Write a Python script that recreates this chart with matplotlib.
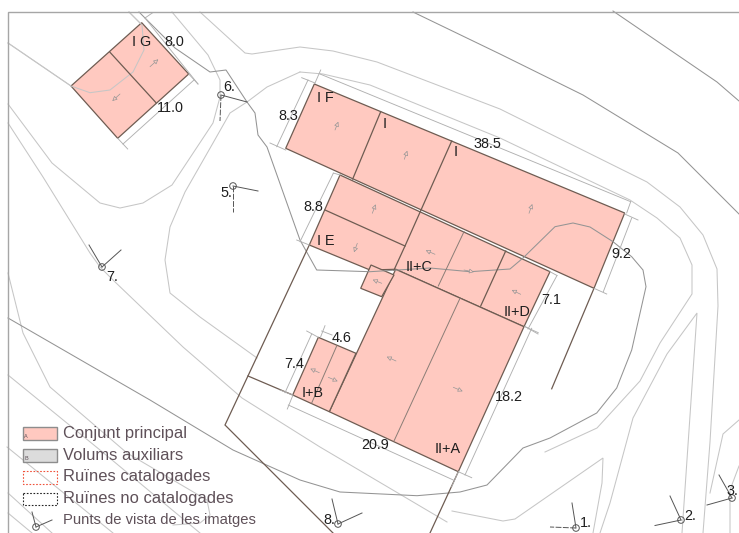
import matplotlib
matplotlib.use("Agg")
import matplotlib.pyplot as plt
from matplotlib.patches import Polygon, Circle, Rectangle

plt.rcParams['font.family'] = ['Liberation Sans', 'DejaVu Sans']

PINK = '#ffc9c0'
WALL = '#6e5c52'
GREY = '#949494'
LIGHT = '#c6c6c6'
TXT = '#1e1e1e'
LEG = '#5f5159'

# building footprints (plan coordinates)
buildings = [
    [(314.3, 84), (624.7, 213), (594, 288.3), (285.7, 148.3)],
    [(340, 175), (550, 271.7), (524, 326.7), (395.7, 269.3), (370, 270), (309.3, 245)],
    [(395.7, 269.3), (524, 326.7), (458.3, 471.7), (329.3, 411.7)],
    [(318.3, 337.3), (356, 353.3), (329.3, 411.7), (292.7, 395)],
    [(371, 265), (394, 275), (381.7, 296.7), (360.7, 288.3)],
    [(141.7, 22.7), (188.7, 74), (117.7, 138.3), (71, 86)],
]
inner_walls = [
    [(380.7, 111.7), (352.7, 179)],
    [(451.7, 141), (405, 246), (394, 270)],
    [(325, 210), (405, 246)],
    [(505.7, 251), (480.7, 306)],
    [(110, 52.3), (156, 102.7)],
]
thin_walls = [
    [(464, 231.7), (438.3, 286)],
    [(460, 298.3), (394, 441)],
    [(336.7, 346), (311.7, 403)],
]
outer_walls = [
    [(309.3, 245), (225, 425), (333, 533)],
    [(248, 376), (292.7, 395)],
    [(594, 288.3), (551.7, 388.8)],
    [(458.3, 471.7), (430, 533)],
]
# contours and paths
dark_paths = [
    [(139, 12), (175, 48), (210, 72), (226, 70), (247, 102), (255, 113), (258, 135), (267, 147), (300, 240), (316.7, 270),
     (370, 271.7), (430, 268), (470, 271.7), (510, 269), (523, 258), (555, 226.7), (573, 223), (590, 227), (613, 241.7),
     (631.7, 256.7), (643, 270), (646, 286.7), (631.7, 350), (616.7, 388), (596.7, 413), (550, 438), (523, 448),
     (487, 485), (460, 492), (417, 495.7), (340, 492), (300, 480), (233, 450), (150, 400), (8, 318)],
    [(413, 12), (500, 54), (583, 95), (678, 153), (739, 214)],
    [(613, 11), (717, 82), (739, 101)],
]
light_paths = [
    [(129, 12), (142, 25), (144, 50), (133, 72), (110, 90), (90, 92.7), (71, 86), (8, 43)],
    [(172, 12), (208, 55), (220, 80), (220, 97), (213, 123), (172, 185), (143, 203), (120, 208), (100, 203), (52, 163), (8, 104)],
    [(200, 12), (245, 53), (252, 54), (300, 47), (333, 51), (377, 62), (500, 109), (647, 182), (680, 207), (703, 235), (717, 269), (718, 306), (710, 442), (703, 533)],
    [(300, 72), (267, 87), (247, 102), (230, 113), (213, 143), (185, 192), (170, 227), (165, 260), (170, 293), (200, 317), (257, 358)],
    [(8, 123), (43, 177), (90, 253), (100, 267), (113, 280), (183, 347), (242, 398), (320, 447), (447, 522)],
    [(300, 72), (323, 74), (370, 85), (500, 138), (630, 200), (657, 218), (680, 238), (692, 265), (692, 294), (660, 343), (640, 381), (597, 428), (545, 452)],
    [(682, 533), (697, 313), (667, 354), (633, 418), (610, 503), (600, 533)],
    [(593, 533), (602, 483), (603, 458), (515, 519), (503, 521), (452, 511)],
    [(739, 420), (723, 434), (710, 493)],
    [(739, 466), (730, 490), (730, 533)],
    [(8, 273), (23, 333), (50, 387), (127, 453), (207, 500), (210, 515), (200, 523), (173, 525)],
    [(8, 375), (100, 450), (200, 533)],
    [(7, 447), (113, 533)],
    [(8, 493), (52, 533)],
    [(8, 513), (32, 533)],
]
# dimension lines
dims = [
    [(276.7, 146.7), (308, 80)], [(270, 143), (285.7, 150)], [(301.7, 77.7), (315, 83)],
    [(320, 74), (630.7, 201.7)], [(320.7, 70), (315, 83)], [(630.7, 201.7), (626.7, 213)],
    [(631.7, 218), (603.3, 291.7)], [(624.7, 214), (638, 220)], [(594, 288.3), (606.7, 294)],
    [(333.3, 173.3), (300, 241.7)], [(296.7, 240), (309.3, 245)], [(333.3, 173), (340, 175)],
    [(557, 275.5), (528, 329)], [(550, 271.7), (557, 275.5)], [(525, 326.5), (538, 334)],
    [(531.7, 328.3), (465, 475)], [(525, 326.7), (538.3, 332.7)], [(458.3, 471.7), (471.7, 477.7)],
    [(288.3, 405), (453.3, 480)], [(293, 395), (287.3, 409)], [(458.3, 471.7), (451.7, 486.7)],
    [(311.7, 334), (285, 392.7)], [(306.7, 331), (318.3, 337.3)], [(280, 390), (292.7, 395)],
    [(321.7, 331), (332, 335)], [(325, 325.7), (320.7, 336.7)],
    [(152.7, 12.7), (145, 18)], [(145, 18), (198, 84)], [(194, 80), (123, 144)],
    [(188.7, 74), (198, 84)], [(117.7, 138.3), (127.7, 149)],
]
arrows = [
    ((335, 130), (338.3, 121.7)), ((404.3, 159.3), (407.3, 150.7)), ((529, 213.3), (532.3, 204)),
    ((372.3, 213.3), (375.7, 204.3)), ((357.3, 243.3), (354, 252.3)), ((435, 254.3), (425.7, 250.3)),
    ((464, 270), (474, 272)), ((520.7, 294.3), (511.7, 290)), ((381.7, 283.3), (372.7, 279.7)),
    ((396, 361), (386.7, 356.7)), ((453.3, 387.3), (462.7, 391.3)), ((319.3, 372.7), (310.3, 368.7)),
    ((328.3, 377.3), (337.7, 381.3)), ((150, 66.7), (158.3, 59.3)), ((120, 94), (112.3, 101)),
]
labels = [
    ('I G', 142, 42), ('8.0', 174, 42), ('11.0', 170, 108), ('6.', 229, 87), ('5.', 226, 193), ('7.', 112, 277),
    ('8.3', 288, 116), ('I F', 325, 98), ('I', 385, 124), ('I', 455.5, 152), ('38.5', 487, 144), ('8.8', 313, 207),
    ('I E', 326, 241), ('II+C', 419, 267), ('9.2', 621, 254), ('7.1', 551, 300), ('II+D', 517, 312), ('4.6', 342, 338),
    ('7.4', 294, 364), ('I+B', 313, 393), ('18.2', 509, 397), ('20.9', 375, 445), ('II+A', 448, 449), ('8.', 329, 520),
    ('1.', 586, 523), ('2.', 690, 516), ('3.', 732.5, 491),
]
# viewpoint: centre, solid ray end, second ray end, second ray dashed
viewpoints = [
    ((221, 95), (247, 102), (220, 121), True),
    ((233, 186), (258, 191), (233, 212), True),
    ((102, 267), (89, 245), (121, 250), False),
    ((338, 524), (332, 499), (362, 513), False),
    ((576, 528), (572, 503), (550, 527), True),
    ((681, 520), (670, 496), (655, 525.5), False),
    ((732, 498), (719, 475), (707, 505), False),
    ((36, 527), (32, 512), (52, 520), False),
]
legend_names = ['Conjunt principal', 'Volums auxiliars', 'Ruïnes catalogades', 'Ruïnes no catalogades', 'Punts de vista de les imatges']
legend_y = [433.7, 455, 477, 498, 520]
legend_sizes = [11.9, 11.9, 11.9, 11.9, 10.6]

fig = plt.figure(figsize=(7.39, 5.33), dpi=100)
ax = fig.add_axes([0, 0, 1, 1])
ax.set_xlim(0, 739)
ax.set_ylim(533, 0)
ax.axis('off')


def path(points, **kw):
    ax.plot([p[0] for p in points], [p[1] for p in points], solid_joinstyle='miter', **kw)


for p in light_paths:
    path(p, color=LIGHT, lw=0.75, zorder=1)
for b in buildings:
    ax.add_patch(Polygon(b, closed=True, fc=PINK, ec=WALL, lw=0.9, zorder=2))
for p in light_paths[:1]:
    path(p, color=LIGHT, lw=0.75, zorder=3)
for p in dark_paths:
    path(p, color=GREY, lw=0.75, zorder=3)
for p in inner_walls:
    path(p, color=WALL, lw=0.9, zorder=3)
for p in thin_walls:
    path(p, color='#8a7d76', lw=0.7, zorder=3)
for p in outer_walls:
    path(p, color=WALL, lw=0.9, zorder=3)
for p in dims:
    path(p, color='#b0b0b0', lw=0.65, zorder=3)
for tail, head in arrows:
    ax.annotate('', xy=head, xytext=tail, zorder=4,
                arrowprops=dict(arrowstyle='-|>,head_length=0.4,head_width=0.2', fc=PINK, ec='#969696',
                                lw=0.5, mutation_scale=7, shrinkA=0, shrinkB=0))
for c, a, b, dashed in viewpoints:
    ax.add_patch(Circle(c, 3.3, fc='none', ec='#555555', lw=0.7, zorder=5))
    path([c, a], color='#555555', lw=0.7, zorder=5)
    path([c, b], color='#555555', lw=0.7, zorder=5, ls=(0, (6, 1.5)) if dashed else '-')
for s, x, y in labels:
    ax.text(x, y, s, ha='center', va='center', fontsize=10.4, color=TXT, zorder=6)

# frame
path([(8, 533), (8, 11.5), (739, 11.5)], color='#a6a6a6', lw=1.0, zorder=6)

# legend
ax.add_patch(Rectangle((22.7, 427), 34.3, 13, fc=PINK, ec='#8d8d8d', lw=1, zorder=6))
ax.add_patch(Rectangle((22.7, 449), 34.3, 13, fc='#dcdcdc', ec='#8d8d8d', lw=1, zorder=6))
ax.add_patch(Rectangle((22.7, 471), 34.3, 12.5, fc='none', ec='#f0523a', lw=0.8, ls=(0, (1.5, 1.5)), zorder=6))
ax.add_patch(Rectangle((22.7, 492.5), 34.3, 12.5, fc='none', ec='#222222', lw=0.8, ls=(0, (1.5, 1.5)), zorder=6))
ax.text(26, 437, 'A', fontsize=4, ha='center', va='center', color=LEG, zorder=7)
ax.text(26, 458.5, 'B', fontsize=4, ha='center', va='center', color=LEG, zorder=7)
for name, y, size in zip(legend_names, legend_y, legend_sizes):
    ax.text(63, y, name, fontsize=size, ha='left', va='center', color=LEG, zorder=7)

fig.savefig('out.png', dpi=100)
